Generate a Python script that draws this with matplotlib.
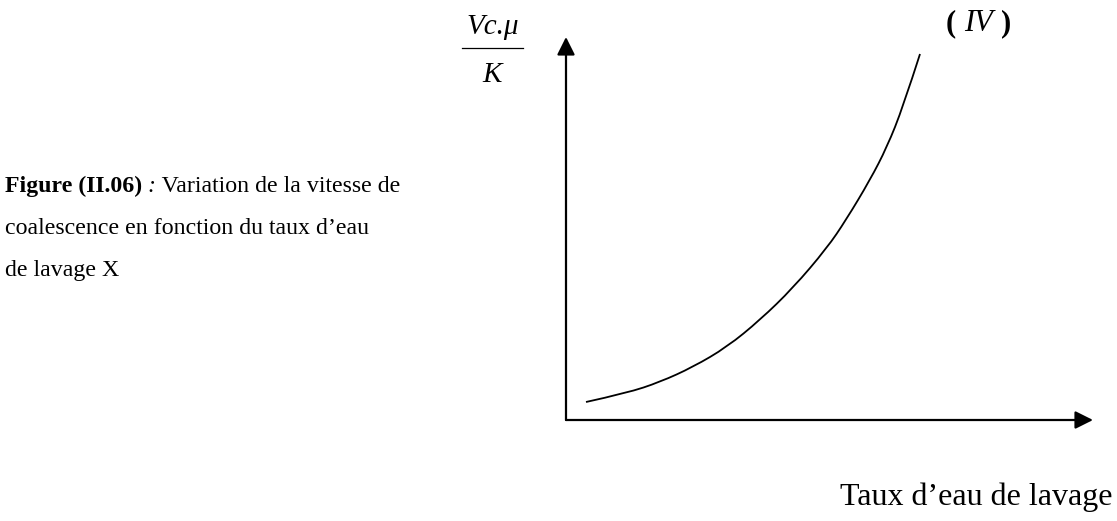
import numpy as np
import matplotlib.pyplot as plt
from matplotlib.lines import Line2D
from matplotlib.path import Path
from matplotlib.patches import PathPatch

# Coalescence rate vs wash-water ratio (arbitrary units, origin at axes corner)
taux_eau = [2.0, 6.1, 9.4, 12.7, 16.1, 19.4, 22.7, 26.1, 28.0, 30.4, 32.1, 33.7, 35.4]
vitesse = [1.8, 2.7, 3.8, 5.3, 7.3, 10.0, 13.2, 17.2, 20.0, 24.0, 27.3, 31.3, 36.6]

# Arrow tips of the two axes
x_axis_end = 52.7
y_axis_end = 38.3

caption_bold = "Figure (II.06)"
caption_lines = ["Variation de la vitesse de",
                 "coalescence en fonction du taux d\u2019eau",
                 "de lavage X"]
xlabel_text = "Taux d\u2019eau de lavage"
curve_label = "IV"

W, H = 1117, 521
fig = plt.figure(figsize=(W / 100, H / 100), dpi=100)
ax = fig.add_axes([0, 0, 1, 1])
ax.set_xlim(-56.6, 55.1)
ax.set_ylim(-10.1, 42.0)
ax.axis('off')

serif = 'Liberation Serif'

def fx(px):
    return px / W

def fy(py):
    return 1 - py / H

# axes with filled arrow heads
arrow = dict(arrowstyle='-|>,head_length=0.6,head_width=0.3', mutation_scale=18,
             lw=1.6, color='black', shrinkA=0, shrinkB=0)
ax.annotate('', xy=(x_axis_end, 0), xytext=(0, 0), arrowprops=arrow)
ax.annotate('', xy=(0, y_axis_end), xytext=(0, 0), arrowprops=arrow)

# the curve, smoothed with quadratic segments between the read points
pts = np.column_stack([taux_eau, vitesse])
verts = [pts[0]]
codes = [Path.MOVETO]
for i in range(1, len(pts) - 1):
    mid = (pts[i] + pts[i + 1]) / 2
    end = mid if i < len(pts) - 2 else pts[-1]
    verts += [pts[i], end]
    codes += [Path.CURVE3, Path.CURVE3]
ax.add_patch(PathPatch(Path(verts, codes), fill=False, edgecolor='black',
                       lw=1.3, capstyle='butt'))

# y label as a stacked fraction
fig.text(fx(493), fy(34), 'Vc.\u03bc', family=serif, style='italic',
         fontsize=21, ha='center', va='baseline')
fig.add_artist(Line2D([fx(462), fx(523)], [fy(48), fy(48)], color='black', lw=0.9))
fig.text(fx(492), fy(82), 'K', family=serif, style='italic',
         fontsize=21, ha='center', va='baseline')

# curve label (IV)
fig.canvas.draw()
r = fig.canvas.get_renderer()
t1 = fig.text(fx(946), fy(31), '(', family=serif, weight='bold', fontsize=22,
              va='baseline')
bb = t1.get_window_extent(r)
t2 = fig.text(bb.x1 / W + 0.007, fy(31), curve_label, family=serif, style='italic',
              fontsize=22, va='baseline')
bb = t2.get_window_extent(r)
fig.text(bb.x1 / W + 0.007, fy(31), ')', family=serif, weight='bold', fontsize=22,
         va='baseline')

# caption on the left
cs = 17.2
t = fig.text(fx(5), fy(192), caption_bold, family=serif, weight='bold',
             fontsize=cs, va='baseline')
bb = t.get_window_extent(r)
t = fig.text(bb.x1 / W, fy(192), ' :', family=serif, style='italic',
             fontsize=cs, va='baseline')
bb = t.get_window_extent(r)
fig.text(bb.x1 / W, fy(192), ' ' + caption_lines[0], family=serif,
         fontsize=cs, va='baseline')
fig.text(fx(5), fy(234), caption_lines[1], family=serif, fontsize=cs, va='baseline')
fig.text(fx(5), fy(276), caption_lines[2], family=serif, fontsize=cs, va='baseline')

# x label
fig.text(fx(840), fy(505), xlabel_text, family=serif, fontsize=23, va='baseline')

fig.savefig('out.png', dpi=100, facecolor='white')
